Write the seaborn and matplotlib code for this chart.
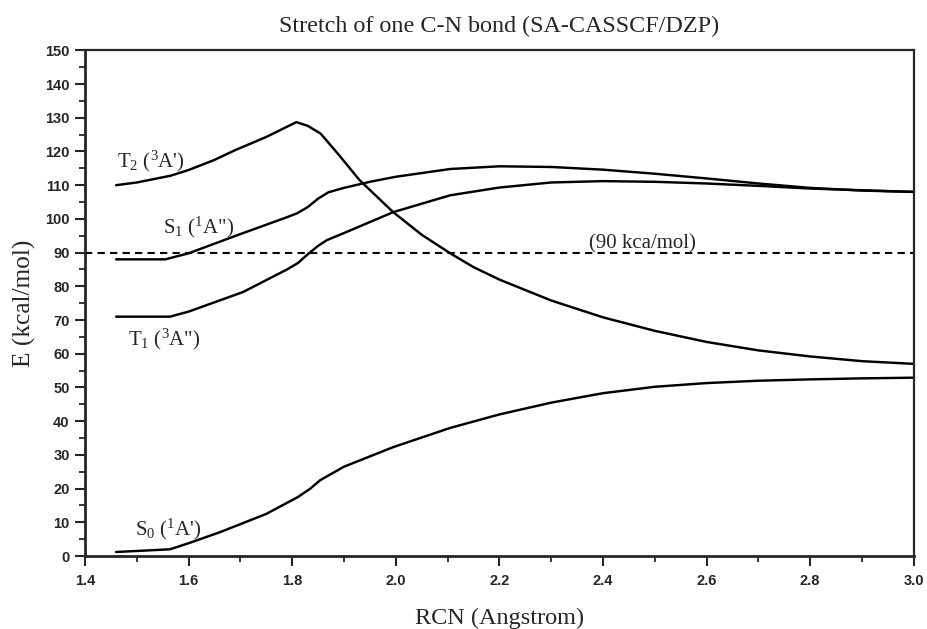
import numpy as np
import pandas as pd
import matplotlib
matplotlib.use("Agg")
import matplotlib.pyplot as plt
import seaborn as sns
from matplotlib.ticker import MultipleLocator

# ---- data ----
x_T2 = [1.46, 1.50, 1.565, 1.60, 1.65, 1.69, 1.75, 1.808, 1.83, 1.855, 1.89, 1.93, 1.995,
        2.05, 2.105, 2.15, 2.20, 2.30, 2.40, 2.50, 2.60, 2.70, 2.80, 2.90, 3.00]
E_T2 = [110.0, 110.8, 112.8, 114.5, 117.5, 120.4, 124.3, 128.7, 127.6, 125.3, 119.0, 111.5,
        102.0, 95.3, 89.8, 85.7, 82.0, 75.8, 70.8, 66.8, 63.5, 61.0, 59.2, 57.8, 57.0]

x_S1 = [1.46, 1.50, 1.555, 1.60, 1.70, 1.79, 1.81, 1.83, 1.85, 1.87, 1.90, 1.95, 2.00,
        2.105, 2.20, 2.30, 2.40, 2.50, 2.60, 2.70, 2.80, 2.90, 3.00]
E_S1 = [88.0, 88.0, 88.0, 89.8, 95.5, 100.5, 101.7, 103.5, 106.0, 107.9, 109.2, 111.0, 112.5,
        114.8, 115.6, 115.4, 114.6, 113.4, 112.0, 110.5, 109.2, 108.4, 108.0]

x_T1 = [1.46, 1.50, 1.564, 1.60, 1.705, 1.79, 1.811, 1.83, 1.85, 1.867, 1.90, 1.995, 2.105,
        2.20, 2.30, 2.40, 2.50, 2.60, 2.70, 2.80, 2.90, 3.00]
E_T1 = [71.0, 71.0, 71.0, 72.5, 78.3, 85.0, 86.9, 89.5, 92.0, 93.7, 95.8, 102.0, 107.0,
        109.3, 110.8, 111.2, 111.0, 110.5, 109.8, 109.0, 108.5, 108.0]

x_S0 = [1.46, 1.50, 1.564, 1.60, 1.661, 1.75, 1.811, 1.835, 1.854, 1.90, 1.995, 2.105, 2.20,
        2.30, 2.40, 2.50, 2.60, 2.70, 2.80, 2.90, 3.00]
E_S0 = [1.2, 1.5, 2.0, 3.8, 7.1, 12.5, 17.5, 20.0, 22.5, 26.5, 32.3, 38.0, 42.0,
        45.5, 48.3, 50.2, 51.3, 52.0, 52.4, 52.7, 52.9]

states = ["T2", "S1", "T1", "S0"]
ref_level = 90

title = "Stretch of one C-N bond (SA-CASSCF/DZP)"
xlabel = "RCN (Angstrom)"
ylabel = "E (kcal/mol)"
ref_text = "(90 kca/mol)"
state_labels = {
    "T2": "T$\\mathregular{_2}$ ($\\mathregular{^3}$A')",
    "S1": "S$\\mathregular{_1}$ ($\\mathregular{^1}$A\")",
    "T1": "T$\\mathregular{_1}$ ($\\mathregular{^3}$A\")",
    "S0": "S$\\mathregular{_0}$ ($\\mathregular{^1}$A')",
}
label_pos = {"T2": (1.462, 115.3), "S1": (1.551, 95.8), "T1": (1.483, 62.6), "S0": (1.497, 6.2)}
ref_text_pos = (2.477, 91.3)

frames = []
for name, xs, es in [("T2", x_T2, E_T2), ("S1", x_S1, E_S1), ("T1", x_T1, E_T1), ("S0", x_S0, E_S0)]:
    frames.append(pd.DataFrame({"RCN": xs, "E": es, "state": name}))
df = pd.concat(frames, ignore_index=True)

# ---- styling ----
sns.set_style("ticks")
plt.rcParams["mathtext.fontset"] = "stix"
serif = ["Liberation Serif", "DejaVu Serif"]
sans = ["Liberation Sans", "DejaVu Sans"]

fig = plt.figure(figsize=(9.27, 6.29), dpi=100)
ax = fig.add_axes([0.0917, 0.116, 0.894, 0.804])

sns.lineplot(data=df, x="RCN", y="E", units="state", estimator=None,
             color="black", linewidth=1.75, ax=ax, sort=False)

ax.axhline(ref_level, color="black", linestyle=(0, (3.5, 2.5)), linewidth=1.5)
ax.text(ref_text_pos[0], ref_text_pos[1], ref_text, fontsize=15, family=serif,
        ha="center", va="baseline")

for s in states:
    x0, y0 = label_pos[s]
    ax.text(x0, y0, state_labels[s], fontsize=15, family=serif, ha="left", va="baseline")

ax.set_xlim(1.4, 3.0)
ax.set_ylim(0, 150)
ticks_x = np.round(np.arange(1.4, 3.01, 0.2), 1)
ax.set_xticks(ticks_x)
ax.set_xticklabels([f"{v:.1f}" for v in ticks_x])
ax.xaxis.set_minor_locator(MultipleLocator(0.1))
ax.yaxis.set_major_locator(MultipleLocator(10))
ax.yaxis.set_minor_locator(MultipleLocator(5))
ax.tick_params(axis="both", which="major", direction="out", length=7, width=1.5,
               labelsize=10.5, top=False, right=False)
ax.tick_params(axis="y", which="major", pad=4)
ax.tick_params(axis="x", which="major", pad=6)
ax.tick_params(axis="both", which="minor", direction="out", length=4, width=1.3,
               top=False, right=False)
for lab in ax.get_xticklabels() + ax.get_yticklabels():
    lab.set_family(sans)
    lab.set_fontweight("bold")

for side in ["left", "bottom"]:
    ax.spines[side].set_linewidth(2.0)
for side in ["top", "right"]:
    ax.spines[side].set_linewidth(1.6)
    ax.spines[side].set_visible(True)

ax.set_xlabel(xlabel, fontsize=17.5, family=serif, labelpad=14)
ax.set_ylabel(ylabel, fontsize=18.3, family=serif, labelpad=7)
ax.set_title(title, fontsize=17.4, family=serif, pad=13)

fig.savefig("out.png", dpi=100)
